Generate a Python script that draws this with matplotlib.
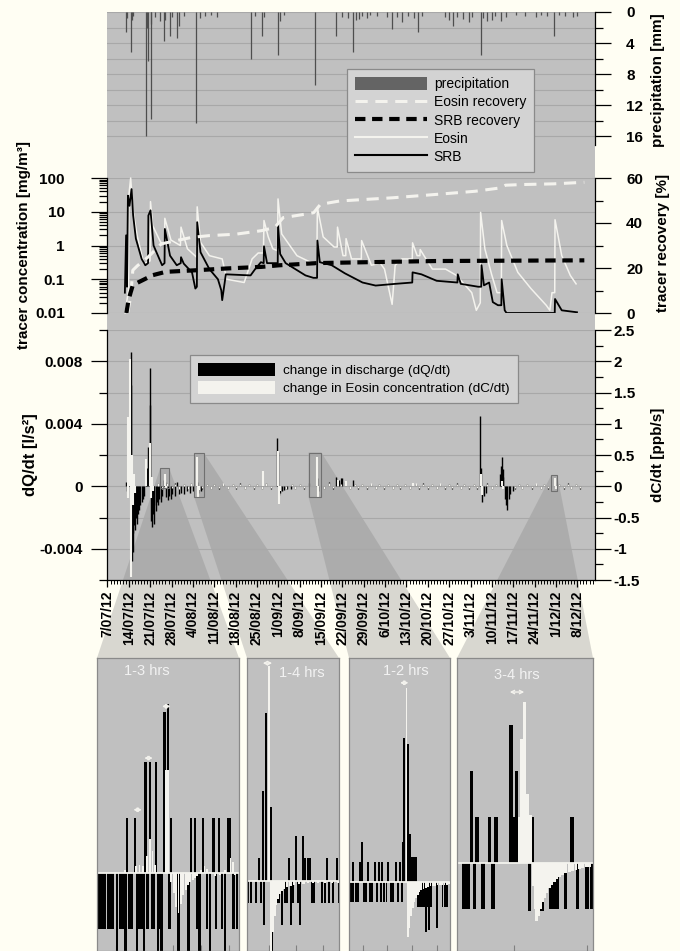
import numpy as np
import matplotlib
matplotlib.use("Agg")
import matplotlib.pyplot as plt
import matplotlib.dates as mdates
from matplotlib.patches import Rectangle, Polygon, Patch
from matplotlib.lines import Line2D
from matplotlib.ticker import MultipleLocator, LogLocator, FuncFormatter, NullFormatter
from datetime import datetime

plt.rcParams['font.family'] = ['Liberation Sans', 'DejaVu Sans']
plt.rcParams['font.weight'] = 'bold'
plt.rcParams['axes.unicode_minus'] = False

# ------------------------------------------------------------------ data
START = datetime(2012, 7, 7)          # day 0 for every day offset below

# precipitation [mm]
pr_day = [6.2, 6.5, 7.6, 7.9, 8.5, 12.6, 13.0, 13.3, 14.1, 14.4,
          15.5, 17.2, 18.4, 19.0, 20.5, 21.3, 22.9, 23.5, 25.0, 29.1,
          30.3, 32.0, 34.0, 36.0, 47.2, 48.5, 50.5, 51.3, 55.8, 56.5,
          58.0, 68.1, 74.8, 77.0, 79.0, 80.5, 81.5, 82.5, 83.5, 85.0,
          86.0, 88.5, 91.5, 93.3, 95.0, 96.5, 98.5, 100.5, 101.7, 103.0,
          110.5, 112.0, 113.4, 114.5, 116.5, 118.5, 119.5, 122.3, 123.0, 124.5,
          126.0, 127.0, 129.0, 130.5, 134.0, 137.0, 140.5, 142.0, 144.0, 146.3,
          148.0, 150.0, 152.5, 154.0]
pr_mm = [2.6, 0.8, 5.2, 1.0, 0.5, 16.0, 2.0, 6.3, 13.7, 1.5,
         0.6, 1.2, 3.7, 1.0, 3.1, 0.7, 3.3, 1.8, 0.5, 14.3,
         0.8, 0.5, 0.4, 0.6, 6.1, 0.5, 3.1, 0.7, 5.5, 1.2,
         0.4, 9.4, 3.1, 0.6, 0.8, 5.2, 1.0, 0.9, 0.5, 0.8,
         0.4, 0.5, 0.7, 2.2, 0.6, 1.3, 0.5, 0.8, 2.6, 0.5,
         0.6, 1.0, 1.8, 0.6, 0.9, 1.3, 0.6, 5.5, 0.8, 1.2,
         1.0, 0.5, 1.2, 0.6, 0.4, 0.5, 0.6, 0.4, 0.5, 3.1,
         0.4, 0.5, 0.6, 0.5]

# Eosin concentration [mg/m3]
eo_day = [5.77, 6.9, 7.0, 7.6, 8.3, 9.7, 11.9, 13.95, 14.1, 14.8,
          17.4, 18.7, 18.8, 20.8, 23.9, 24.1, 26.2, 29.2, 29.4, 30.5,
          33.4, 37.6, 39.1, 44.8, 47.4, 49.4, 51.1, 51.3, 52.7, 54.2,
          55.7, 55.9, 57.1, 62.1, 68.6, 68.8, 70.7, 74.3, 75.3, 75.4,
          77.2, 78.1, 78.2, 80.0, 83.2, 83.3, 86.5, 89.4, 90.8, 93.3,
          94.3, 96.5, 99.9, 100.0, 101.5, 102.4, 102.5, 104.4, 106.5, 110.8,
          114.4, 119.4, 120.9, 122.2, 122.3, 123.7, 125.9, 127.7, 129.1, 129.2,
          130.9, 134.5, 138.8, 143.8, 145.0, 145.7, 146.6, 146.7, 148.9, 151.7,
          153.6]
eo_val = [0.01, 0.05, 30, 100, 12, 2, 0.29, 0.35, 20, 3.9,
          1.25, 1.1, 6.4, 1.45, 1.0, 3.5, 0.8, 0.45, 14, 1.25,
          0.5, 0.4, 0.1, 0.08, 0.4, 0.6, 0.6, 5.5, 1.8, 0.8,
          0.7, 24, 2.2, 0.5, 0.26, 13.6, 1.8, 0.9, 0.9, 3.5,
          0.5, 0.5, 1.6, 0.4, 0.4, 1.4, 0.26, 0.3, 0.2, 0.018,
          0.26, 0.4, 0.4, 1.2, 0.5, 0.5, 0.76, 0.4, 0.2, 0.2,
          0.13, 0.04, 0.012, 0.02, 9.6, 0.8, 0.14, 0.04, 0.04, 5.5,
          1.0, 0.16, 0.053, 0.017, 0.012, 0.04, 0.04, 5.8, 0.5, 0.13,
          0.073]

# SRB concentration [mg/m3]
srb_day = [5.7, 6.1, 6.4, 6.7, 7.2, 7.9, 8.4, 9.3, 11.2, 12.4,
           13.3, 13.4, 14.1, 15.1, 17.0, 17.9, 18.7, 18.8, 20.5, 22.7,
           24.0, 24.1, 25.0, 27.7, 28.8, 29.3, 29.4, 30.5, 33.4, 36.2,
           37.3, 37.6, 38.8, 46.9, 48.4, 50.3, 51.2, 51.3, 52.3, 54.2,
           55.8, 55.9, 56.6, 58.4, 64.9, 67.5, 68.7, 68.8, 69.6, 73.5,
           77.8, 83.6, 87.9, 94.3, 99.9, 100.0, 102.9, 107.9, 114.7, 114.8,
           115.8, 121.5, 122.5, 122.6, 123.4, 125.1, 126.3, 128.0, 129.1, 129.2,
           130.2, 130.8, 146.6, 146.7, 148.9, 153.9]
srb_val = [0.04, 2, 0.06, 30, 15, 47, 8, 1.6, 0.4, 0.26,
           0.3, 7.7, 11, 1.0, 0.4, 0.26, 0.3, 3.1, 0.5, 0.26,
           0.3, 0.45, 0.29, 0.16, 0.053, 0.06, 4.9, 0.63, 0.2, 0.1,
           0.047, 0.024, 0.14, 0.13, 0.2, 0.32, 0.3, 0.95, 0.3, 0.3,
           0.3, 3.9, 0.56, 0.3, 0.13, 0.11, 0.11, 1.4, 0.32, 0.26,
           0.15, 0.08, 0.065, 0.073, 0.08, 0.16, 0.14, 0.09, 0.08, 0.14,
           0.073, 0.06, 0.06, 0.26, 0.066, 0.08, 0.021, 0.017, 0.017, 0.1,
           0.012, 0.01, 0.01, 0.026, 0.012, 0.0105]

# cumulative tracer recovery [%]
eo_rec_day = [6.6, 7.6, 8.3, 9.8, 13.4, 17.6, 21.9, 27.6, 33.4, 41.9,
              50.5, 54.8, 57.6, 64.8, 67.6, 69.8, 76.2, 93.4, 107.7, 120.5,
              128.8, 130.5, 136.2, 146.2, 156.3]
eo_rec = [0, 7.3, 19, 21, 25, 30.7, 32, 33.6, 34.4, 35,
          36.6, 38, 42.4, 43.9, 44.6, 48.3, 49.8, 51.2, 52.7, 54.1,
          55.6, 56.8, 57.1, 57.4, 58.1]
srb_rec_day = [6.2, 6.9, 8.3, 10.5, 14.8, 19.1, 29.1, 39.1, 50.5, 56.2, 69.1, 107.7, 156.3]
srb_rec = [0, 5.9, 12.4, 13.9, 16.8, 18.3, 19, 19.8, 20.5, 21.2, 22.2, 23.1, 23.4]

# change in discharge dQ/dt [1e-3 l/s2], events
dq_day = [6.0, 6.3, 7.0, 7.6, 7.8, 8.0, 8.2, 8.4, 8.7, 9.0,
          9.3, 9.6, 10.0, 10.4, 10.8, 11.2, 11.6, 12.0, 12.6, 13.0,
          13.4, 13.8, 14.0, 14.3, 14.5, 14.8, 15.1, 15.4, 15.8, 16.2,
          16.6, 17.0, 17.5, 18.0, 18.5, 18.9, 19.3, 19.8, 20.3, 20.8,
          21.3, 22.0, 22.8, 23.3, 24.0, 25.0, 26.0, 27.0, 28.0, 29.3,
          29.6, 30.5, 55.7, 55.9, 56.2, 56.6, 57.2, 58.0, 59.0, 60.0,
          68.6, 69.0, 75.0, 76.0, 77.0, 80.5, 122.2, 122.5, 122.8, 123.3,
          124.0, 128.6, 128.9, 129.2, 129.5, 129.8, 130.2, 130.6, 131.0, 131.5,
          132.0, 133.0]
dq_val = [0.3, -0.3, 0.4, 6.5, 8.6, -4.8, -4.2, -3.0, -2.5, -2.8,
          -2.0, -2.4, -1.8, -1.5, -1.2, -1.0, -0.8, -0.6, 0.6, 1.2,
          2.5, 5.2, 7.6, -2.2, -2.6, -1.8, -2.4, -1.2, -1.6, -1.0,
          -1.2, -0.8, -1.0, -0.6, 0.4, 0.3, -0.7, -0.9, -0.6, -0.8,
          -0.5, -0.6, 0.3, -0.5, -0.4, -0.5, -0.3, -0.4, -0.3, 0.3,
          -0.4, -0.3, 3.1, 2.2, -0.55, -0.4, -0.3, -0.25, -0.2, -0.2,
          0.5, -0.3, 0.6, 0.4, 0.5, 0.4, 4.5, 1.2, -1.0, -0.6,
          -0.4, 0.8, 1.3, 1.9, 1.1, 0.6, -0.8, -1.2, -1.5, -0.8,
          -0.5, -0.3]

# change in Eosin concentration dC/dt [ppb/s], events
dc_day = [6.6, 6.8, 7.5, 7.7, 8.0, 8.3, 8.6, 9.0, 12.6, 13.9,
          14.2, 14.6, 15.0, 18.8, 19.2, 29.4, 29.7, 30.0, 51.0, 55.9,
          56.1, 56.4, 68.8, 69.1, 75.4, 78.2, 100.0, 122.3, 122.6, 129.2,
          129.5, 146.7, 147.0]
dc_val = [1.11, -0.19, 2.03, -1.45, 0.5, -0.3, 0.2, -0.1, 0.44, 0.69,
          -0.19, 0.15, -0.08, 0.2, -0.05, 0.47, -0.19, -0.06, 0.25, 0.56,
          -0.28, -0.08, 0.47, -0.17, 0.1, 0.08, 0.05, 0.19, -0.14, 0.08,
          -0.05, 0.14, -0.05]

# small background fluctuations: dQ/dt [1e-4 l/s2] and dC/dt [ppb/s]
bg_day = [16.5, 18.0, 19.5, 21.0, 22.0, 23.5, 25.0, 26.5, 27.5, 31.0,
          32.5, 34.0, 35.0, 36.5, 38.0, 39.5, 41.0, 42.0, 43.5, 45.0,
          46.5, 48.0, 49.0, 50.5, 52.0, 53.5, 58.5, 60.5, 61.5, 63.0,
          64.5, 66.0, 71.0, 72.5, 74.0, 76.5, 78.0, 79.5, 81.0, 82.0,
          83.5, 85.0, 86.5, 88.0, 89.0, 90.5, 92.0, 93.5, 95.0, 96.0,
          97.5, 99.0, 101.0, 102.0, 103.5, 105.0, 106.5, 108.0, 109.0, 110.5,
          112.0, 113.0, 114.5, 116.0, 117.0, 118.5, 120.0, 121.0, 124.5, 126.0,
          127.5, 133.5, 135.0, 136.0, 137.5, 139.0, 140.5, 142.0, 143.0, 144.5,
          148.0, 149.5, 151.0, 152.0, 153.5, 155.0]
bg_dq = [2, -2, 2, -1.5, 2, -2, 1.5, -2, 2, -1.5,
         1.5, -2, 1.5, -1.5, 1.5, -2, 1.5, -1.5, 2, -1.5,
         1.5, -2, 1.5, -2, 2, -1.5, -2, 1.5, -2, 1.5,
         -1.5, 2, -2, 3, -2, 5, 3, -2, 1.5, -2,
         1.5, -1.5, 1.5, -2, 1.5, -1.5, 1.5, -2, 1.5, -1.5,
         1.5, -2, 1.5, -1.5, 2, -1.5, 1.5, -2, 1.5, -1.5,
         1.5, -2, 2, -1.5, 1.5, -2, 1.5, -1.5, 2, -1.5,
         1.5, -1.5, 1.5, -2, 1.5, -1.5, 1.5, -2, 1.5, -1.5,
         1.5, -1.5, 2, -1.5, 1.5, -1.5]
bg_dc = [0.05, -0.04, 0.06, -0.03, 0.04, -0.05, 0.03, -0.04, 0.05, -0.03,
         0.03, -0.04, 0.04, -0.03, 0.05, -0.04, 0.03, -0.03, 0.04, -0.05,
         0.03, -0.03, 0.04, -0.04, 0.05, -0.03, -0.04, 0.03, -0.05, 0.04,
         -0.03, 0.05, -0.04, 0.06, -0.03, 0.04, 0.05, -0.04, 0.03, -0.03,
         0.04, -0.03, 0.05, -0.04, 0.03, -0.03, 0.04, -0.05, 0.03, -0.03,
         0.04, -0.04, 0.05, -0.03, 0.04, -0.03, 0.03, -0.04, 0.05, -0.03,
         0.04, -0.03, 0.03, -0.04, 0.03, -0.03, 0.04, -0.03, 0.04, -0.04,
         0.03, -0.03, 0.04, -0.04, 0.03, -0.03, 0.05, -0.04, 0.03, -0.03,
         0.04, -0.03, 0.03, -0.04, 0.03, -0.03]

# zoomed windows (days, dC/dt range)
win_day0 = [17.3, 28.4, 65.9, 145.5]
win_day1 = [20.2, 31.6, 70.1, 147.4]
win_lo = [-0.03, -0.17, -0.17, -0.08]
win_hi = [0.29, 0.53, 0.54, 0.18]
win_lag = ['1-3 hrs', '1-4 hrs', '1-2 hrs', '3-4 hrs']

# hourly detail, window 1 (hours, relative units)
in1_q_t = [12.7, 16.2, 20.6, 22.5, 24.9, 28.5, 30.1, 31.3, 39.7, 41.4,
           44.9, 49.3, 51.7, 55.4, 56.2, 1.0, 2.1, 3.2, 4.9, 5.9,
           6.8, 8.5, 9.6, 10.6, 11.3, 12.0, 13.8, 14.8, 16.9, 17.9,
           18.6, 19.3, 20.0, 21.4, 23.4, 23.9, 25.8, 26.8, 27.3, 30.7,
           34.5, 38.7, 42.3, 43.4, 46.5, 47.9, 50.4, 52.8, 54.2, 57.7,
           59.2]
in1_q = [1, 1, 2, 2, 2, 2.9, 3.05, 1, 1, 1,
         1, 1, 1, 1, 1, -1, -1, -1, -1, -1,
         -1, -2, -1, -1, -1, -2, -1, -1, -2, -1,
         -1, -1, -2, -1, -1, -1, -2, -1, -2, -1,
         -2, -2, -1, -2, -1, -2, -1, -1, -2, -1,
         -1]
in1_c_t = [11.8, 16.5, 18.0, 19.5, 21.3, 22.6, 23.5, 24.4, 29.2, 29.9,
           31.5, 32.5, 33.5, 34.5, 35.5, 36.5, 37.5, 38.5, 39.5, 40.5,
           41.5, 42.5, 44.0, 45.5, 46.5, 48.0, 50.0, 52.0, 54.0, 56.5,
           57.5, 58.5]
in1_c = [0.06, 0.12, 0.15, 0.12, 0.3, 0.62, 0.4, 0.15, 1.86, 1.86,
         -0.15, -0.35, -0.6, -0.72, -0.55, -0.4, -0.3, -0.22, -0.16, -0.12,
         -0.08, -0.05, 0.05, 0.12, 0.08, 0.02, -0.05, -0.03, 0.05, 0.27,
         0.2, -0.03]

# window 2
in2_q_t = [5.0, 6.7, 7.9, 10.0, 17.9, 20.7, 23.6, 24.7, 25.9, 26.6,
           34.0, 38.3, 0.4, 1.6, 4.0, 5.9, 7.3, 10.7, 12.9, 13.7,
           14.7, 16.1, 17.1, 18.7, 19.4, 21.7, 22.6, 27.6, 28.6, 32.0,
           33.0, 35.0, 36.7, 39.0]
in2_q = [1, 4, 7.5, 3.3, 1, 2, 2, 1, 1, 1,
         1, 1, -1, -1, -1, -1, -2, -3.5, -1, -1,
         -2, -1, -1, -2, -1, -1, -2, -1, -1, -1,
         -1, -1, -1, -1]
in2_c_t = [9.4, 10.3, 11.0, 11.7, 12.4, 13.1, 13.9, 14.7, 15.7, 17.0,
           18.5, 20.0, 22.0, 24.0, 26.0, 28.0, 30.0, 33.0, 36.0, 38.5]
in2_c = [9.6, -3.3, -2.3, -1.6, -1.1, -0.8, -0.6, -0.45, -0.35, -0.28,
         -0.22, -0.18, -0.15, -0.13, -0.12, -0.11, -0.1, -0.1, -0.1, -0.1]

# window 3
in3_q_t = [1.6, 4.7, 5.7, 8.3, 11.1, 12.9, 14.3, 16.9, 20.0, 21.9,
           23.3, 23.7, 25.4, 26.1, 27.0, 27.6, 28.3, 28.9, 0.7, 1.9,
           3.0, 4.0, 6.4, 7.3, 9.1, 10.0, 12.0, 13.6, 15.0, 16.1,
           17.9, 19.0, 20.9, 22.6, 29.6, 30.4, 31.1, 31.9, 32.6, 33.0,
           33.6, 34.3, 35.0, 37.6, 40.1, 41.1, 42.1]
in3_q = [1, 1, 2, 1, 1, 1, 1, 1, 1, 1,
         2, 7.2, 6.9, 2.4, 1.25, 1.25, 1.25, 1.25, -1, -1,
         -1, -1, -1, -1, -1, -1, -1, -1, -1, -1,
         -1, -1, -1, -1, -1.25, -1.25, -1.25, -1.25, -1.25, -2.5,
         -1.25, -2.4, -1.25, -2.3, -1.25, -1.25, -1.25]
in3_c_t = [24.7, 25.4, 26.0, 26.7, 27.4, 28.1, 28.8, 29.5, 30.2, 31.0,
           32.0, 33.0, 34.0, 35.0, 36.0, 37.0, 38.0, 39.0, 40.0, 41.0,
           42.0, 43.0]
in3_c = [9.7, -2.75, -2.3, -1.7, -1.3, -1.0, -0.8, -0.65, -0.5, -0.42,
         -0.35, -0.3, -0.27, -0.24, -0.22, -0.2, -0.19, -0.18, -0.17, -0.16,
         -0.15, -0.14]

# window 4
in4_q_t = [1.5, 2.3, 3.0, 3.6, 4.1, 5.4, 6.7, 7.4, 8.0, 11.1,
           11.7, 12.3, 15.0, 15.6, 17.6, 19.3, 19.9, 20.6, 22.4, 23.8,
           24.9, 26.9, 27.8]
in4_q = [-1, -1, 2, -1, 1, -1, 1, -1, 1, 3,
         1, 2, -1.05, 1, -1.05, -1, -1, -1, -1, 1,
         -1, -1, -1]
in4_c_t = [12.8, 13.4, 14.0, 14.6, 15.2, 15.7, 16.1, 16.5, 16.9, 17.3,
           17.7, 18.1, 18.6, 19.1, 19.6, 20.1, 20.6, 21.2, 21.8, 22.5,
           23.2, 23.9, 24.6, 25.3, 26.0, 26.7, 27.4]
in4_c = [1.0, 2.7, 3.5, 1.5, 1.05, -0.5, -1.0, -1.25, -1.15, -1.0,
         -0.85, -0.75, -0.65, -0.55, -0.47, -0.4, -0.35, -0.3, -0.26, -0.22,
         -0.19, -0.16, -0.14, -0.12, -0.1, -0.09, -0.08]

# lag markers (hour position, height) per window
in1_lags = [(17.2, 1.14), (21.8, 2.07), (29.3, 3.0)]
in2_lags = [(8.7, 9.75)]
in3_lags = [(23.7, 9.95)]
in4_lags = [(12.4, 3.72)]

# ------------------------------------------------------------------ style
PAGE = '#fffef3'
PANEL = '#c0c0c0'
GRID = '#a8a8a8'
WHITE = '#f4f3ee'
W, H = 680, 951

fig = plt.figure(figsize=(W / 100, H / 100), dpi=100, facecolor=PAGE)


def frame(x0, y0, x1, y1):
    """pixel box (origin top-left) -> figure fraction rect"""
    return [x0 / W, 1 - y1 / H, (x1 - x0) / W, (y1 - y0) / H]


t0 = mdates.date2num(START)


def dnum(days):
    return t0 + np.asarray(days, dtype=float)


XLIM = (dnum(-0.16), dnum(159.8))
MAJ = dict(length=11.5, width=0.9, direction='out')
MIN = dict(length=5.8, width=0.9, direction='out')


def only_spines(ax, keep):
    for side, sp in ax.spines.items():
        sp.set_visible(side in keep)
        sp.set_linewidth(0.9)


def num_fmt(v, _):
    r = round(v, 6)
    r = 0.0 if r == 0 else r
    return '%g' % r


# shared grey plotting field
ax_bg = fig.add_axes(frame(107, 12, 595, 580), zorder=0)
ax_bg.set_facecolor(PANEL)
ax_bg.set_xticks([])
ax_bg.set_yticks([])
only_spines(ax_bg, [])

# ---- precipitation (hanging bars)
ax_p = fig.add_axes(frame(107, 12, 595, 145), zorder=1)
ax_p.patch.set_visible(False)
ax_p.set_xlim(XLIM)
ax_p.set_ylim(17.1, 0)
ax_p.vlines(dnum(pr_day), 0, pr_mm, color='#4e4e4e', lw=0.9)
ax_p.yaxis.tick_right()
ax_p.yaxis.set_major_locator(MultipleLocator(4))
ax_p.yaxis.set_minor_locator(MultipleLocator(2))
ax_p.yaxis.set_major_formatter(FuncFormatter(num_fmt))
ax_p.tick_params(axis='y', which='major', pad=11, labelsize=11, **MAJ)
ax_p.tick_params(axis='y', which='minor', **MIN)
ax_p.set_xticks([])
ax_p.grid(axis='y', which='both', color=GRID, lw=0.8)
ax_p.set_axisbelow(True)
only_spines(ax_p, ['right'])

# ---- tracer concentrations (log) and recovery
ax_c = fig.add_axes(frame(107, 178, 595, 313), zorder=1)
ax_c.patch.set_visible(False)
ax_c.set_yscale('log')
ax_c.set_xlim(XLIM)
ax_c.set_ylim(0.01, 100)
ax_c.plot(dnum(eo_day), eo_val, color=WHITE, lw=1.1, clip_on=False)
ax_c.plot(dnum(srb_day), srb_val, color='black', lw=1.3)
ax_c.yaxis.set_major_locator(LogLocator(base=10, numticks=10))
ax_c.yaxis.set_minor_locator(LogLocator(base=10, subs=np.arange(2, 10), numticks=10))
ax_c.yaxis.set_major_formatter(FuncFormatter(num_fmt))
ax_c.yaxis.set_minor_formatter(NullFormatter())
ax_c.tick_params(axis='y', which='major', pad=19, labelsize=11, **MAJ)
ax_c.tick_params(axis='y', which='minor', **MIN)
ax_c.tick_params(axis='x', which='both', bottom=False, labelbottom=False)
ax_c.grid(axis='y', which='major', color=GRID, lw=0.8)
ax_c.set_axisbelow(True)
only_spines(ax_c, ['left'])

ax_r = ax_c.twinx()
ax_r.set_zorder(1.1)
ax_r.set_ylim(0, 60)
ax_r.plot(dnum(eo_rec_day), eo_rec, color=WHITE, lw=2.2, ls=(0, (4, 2.5)))
ax_r.plot(dnum(srb_rec_day), srb_rec, color='black', lw=3, ls=(0, (2.5, 1.6)))
ax_r.yaxis.set_major_locator(MultipleLocator(20))
ax_r.yaxis.set_minor_locator(MultipleLocator(10))
ax_r.tick_params(axis='y', which='major', pad=11, labelsize=11, **MAJ)
ax_r.tick_params(axis='y', which='minor', **MIN)
only_spines(ax_r, ['right'])

# ---- rate of change panel
ax_q = fig.add_axes(frame(107, 330, 595, 580), zorder=1)
ax_q.patch.set_visible(False)
ax_q.set_xlim(XLIM)
ax_q.set_ylim(-0.006, 0.010)
ax_q.vlines(dnum(bg_day), 0, np.asarray(bg_dq) * 1e-4, color='black', lw=0.9)
ax_q.vlines(dnum(dq_day), 0, np.asarray(dq_val) * 1e-3, color='black', lw=1.0)
ax_q.yaxis.set_major_locator(MultipleLocator(0.004))
ax_q.yaxis.set_minor_locator(MultipleLocator(0.002))
ax_q.yaxis.set_major_formatter(FuncFormatter(num_fmt))
ax_q.tick_params(axis='y', which='major', pad=6, labelsize=11, **MAJ)
ax_q.tick_params(axis='y', which='minor', **MIN)
ax_q.grid(axis='y', which='both', color=GRID, lw=0.8)
ax_q.set_axisbelow(True)
only_spines(ax_q, ['left', 'bottom'])

ax_q.xaxis.set_major_locator(mdates.WeekdayLocator(byweekday=mdates.SA))
ax_q.xaxis.set_minor_locator(mdates.DayLocator())


def date_fmt(x, _):
    d = mdates.num2date(x)
    return f"{d.day}/{d.month:02d}/{d.year % 100:02d}"


ax_q.xaxis.set_major_formatter(FuncFormatter(date_fmt))
ax_q.tick_params(axis='x', which='major', length=5, width=0.9, pad=3,
                 labelsize=10, labelrotation=90, direction='out')
ax_q.tick_params(axis='x', which='minor', length=3, width=0.7, direction='out')

ax_dc = ax_q.twinx()
ax_dc.set_zorder(1.1)
ax_dc.set_ylim(-1.5, 2.5)
ax_dc.vlines(dnum(bg_day), 0, bg_dc, color=WHITE, lw=0.9)
ax_dc.vlines(dnum(dc_day), 0, dc_val, color=WHITE, lw=1.5)
ax_dc.yaxis.set_major_locator(MultipleLocator(0.5))
ax_dc.yaxis.set_minor_locator(MultipleLocator(0.25))
ax_dc.yaxis.set_major_formatter(FuncFormatter(num_fmt))
ax_dc.tick_params(axis='y', which='major', pad=2, labelsize=11, **MAJ)
ax_dc.tick_params(axis='y', which='minor', **MIN)
only_spines(ax_dc, ['right'])

for a, b, lo, hi in zip(win_day0, win_day1, win_lo, win_hi):
    ax_dc.add_patch(Rectangle((dnum(a), lo), dnum(b) - dnum(a), hi - lo,
                              fill=False, ec='#707070', lw=0.8, zorder=5))

# axis titles
fig.text(24 / W, 1 - 245 / H, 'tracer concentration [mg/m³]', rotation=90,
         ha='center', va='center', fontsize=11)
fig.text(30 / W, 1 - 455 / H, 'dQ/dt [l/s²]', rotation=90,
         ha='center', va='center', fontsize=12)
fig.text(658 / W, 1 - 80 / H, 'precipitation [mm]', rotation=90,
         ha='center', va='center', fontsize=11)
fig.text(663 / W, 1 - 243 / H, 'tracer recovery [%]', rotation=90,
         ha='center', va='center', fontsize=11)
fig.text(658 / W, 1 - 455 / H, 'dC/dt [ppb/s]', rotation=90,
         ha='center', va='center', fontsize=11)

# legends
h_top = [Patch(fc='#646464', ec='none'),
         Line2D([], [], color=WHITE, lw=2.2, ls=(0, (4, 2.5))),
         Line2D([], [], color='black', lw=3, ls=(0, (2.5, 1.6))),
         Line2D([], [], color=WHITE, lw=1.5),
         Line2D([], [], color='black', lw=1.5)]
leg1 = fig.legend(h_top, ['precipitation', 'Eosin recovery', 'SRB recovery', 'Eosin', 'SRB'],
                  loc='upper left', bbox_to_anchor=(347 / W, 1 - 69 / H),
                  prop={'size': 10, 'weight': 'normal'}, frameon=True, fancybox=False,
                  framealpha=1, facecolor='#d3d3d3', edgecolor='#8a8a8a',
                  handlelength=5.2, handleheight=1.1, labelspacing=0.28,
                  borderpad=0.55, handletextpad=0.5, borderaxespad=0)
leg1.get_frame().set_linewidth(0.9)

leg2 = fig.legend([Patch(fc='black', ec='none'), Patch(fc=WHITE, ec='none')],
                  ['change in discharge (dQ/dt)', 'change in Eosin concentration (dC/dt)'],
                  loc='upper left', bbox_to_anchor=(190 / W, 1 - 355 / H),
                  prop={'size': 9.7, 'weight': 'normal'}, frameon=True, fancybox=False,
                  framealpha=1, facecolor='#d3d3d3', edgecolor='#8a8a8a',
                  handlelength=5.7, handleheight=1.1, labelspacing=0.3,
                  borderpad=0.6, handletextpad=0.6, borderaxespad=0)
leg2.get_frame().set_linewidth(0.9)

# ---- detail windows
INSET_X = [(97, 239), (247, 339), (349, 450), (457, 593)]
inset_specs = [
    (in1_q_t, in1_q, in1_c_t, in1_c, in1_lags, (0, 60.1), (-1.40, 3.87), 1.0, 0.8, 1.8, (21.1, 3.64), [8, 20, 32, 44, 56]),
    (in2_q_t, in2_q, in2_c_t, in2_c, in2_lags, (0, 39.1), (-3.15, 9.98), 0.85, 0.9, 2.0, (23.3, 9.3), [9.3, 20.7, 32.1]),
    (in3_q_t, in3_q, in3_c_t, in3_c, in3_lags, (0, 43.3), (-3.47, 11.19), 0.8, 0.7, 1.8, (24.4, 10.55), [6.1, 16.4, 27.1, 37.9]),
    (in4_q_t, in4_q, in4_c_t, in4_c, in4_lags, (0, 28.1), (-1.91, 4.46), 0.75, 0.58, 1.5, (12.4, 4.1), [11.7, 26.9]),
]

inset_axes = []
for (x0, x1), spec, lag in zip(INSET_X, inset_specs, win_lag):
    q_t, q, c_t, c, lags, xl, yl, wq, wc, hw, tpos, ticks = spec
    ax = fig.add_axes(frame(x0, 658, x1, 951), zorder=2)
    ax.set_facecolor(PANEL)
    ax.set_xlim(xl)
    ax.set_ylim(yl)
    ax.bar(q_t, q, width=wq, color='black', zorder=2)
    ax.axhline(0, color=WHITE, lw=1.3, zorder=2.5)
    ax.bar(c_t, c, width=wc, color=WHITE, zorder=3)
    for xa, ya in lags:
        ax.annotate('', xy=(xa - hw, ya), xytext=(xa + hw, ya), zorder=4,
                    arrowprops=dict(arrowstyle='<->', color=WHITE, lw=1.0,
                                    shrinkA=0, shrinkB=0, mutation_scale=6))
    ax.text(tpos[0], tpos[1], lag, color='#f2f2f2', fontsize=10.5, weight='normal',
            ha='center', va='center', zorder=4)
    ax.set_xticks(ticks)
    ax.set_yticks([])
    ax.tick_params(axis='x', direction='in', length=4, width=0.8, color='#808080',
                   labelbottom=False)
    for sp in ax.spines.values():
        sp.set_color('#8a8a8a')
        sp.set_linewidth(0.9)
    inset_axes.append(ax)


# ---- connector shading between windows and detail panels
def convex_hull(pts):
    pts = sorted(set(pts))

    def cross(o, a, b):
        return (a[0] - o[0]) * (b[1] - o[1]) - (a[1] - o[1]) * (b[0] - o[0])

    lower, upper = [], []
    for p in pts:
        while len(lower) >= 2 and cross(lower[-2], lower[-1], p) <= 0:
            lower.pop()
        lower.append(p)
    for p in reversed(pts):
        while len(upper) >= 2 and cross(upper[-2], upper[-1], p) <= 0:
            upper.pop()
        upper.append(p)
    return lower[:-1] + upper[:-1]


to_fig = fig.transFigure.inverted()
for a, b, lo, hi, ax in zip(win_day0, win_day1, win_lo, win_hi, inset_axes):
    corners = ax_dc.transData.transform([(dnum(a), lo), (dnum(b), lo),
                                         (dnum(b), hi), (dnum(a), hi)])
    corners = to_fig.transform(corners)
    pos = ax.get_position()
    pts = [tuple(p) for p in corners] + [(pos.x0, pos.y1), (pos.x1, pos.y1)]
    poly = Polygon(convex_hull(pts), closed=True, transform=fig.transFigure,
                   fc=(0.5, 0.5, 0.5, 0.3), ec='none', zorder=0.5)
    fig.add_artist(poly)

fig.savefig('out.png', dpi=100, facecolor=PAGE)
